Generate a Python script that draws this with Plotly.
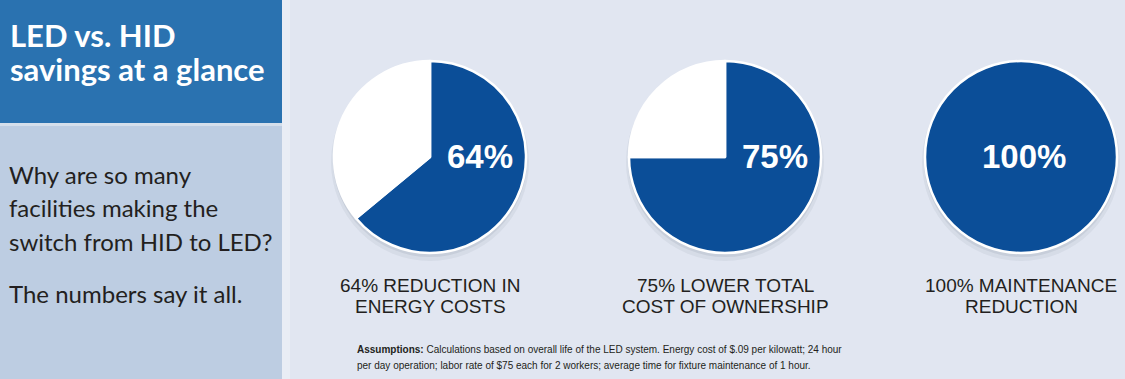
import plotly.graph_objects as go

# ---- data ----
categories = ["Energy costs", "Total cost of ownership", "Maintenance"]
savings_pct = [64, 75, 100]
pie_text = ["64%", "75%", "100%"]
label_line1 = ["64% REDUCTION IN", "75% LOWER TOTAL", "100% MAINTENANCE"]
label_line2 = ["ENERGY COSTS", "COST OF OWNERSHIP", "REDUCTION"]
title_lines = ["LED vs. HID", "savings at a glance"]
body_lines = ["Why are so many", "facilities making the", "switch from HID to LED?", "The numbers say it all."]
assumption_lines = [
    "<b>Assumptions:</b> Calculations based on overall life of the LED system. Energy cost of $.09 per kilowatt; 24 hour",
    "per day operation; labor rate of $75 each for 2 workers; average time for fixture maintenance of 1 hour.",
]

# ---- layout constants (pixels) ----
W, H = 1125, 379
centers_x = [430, 725, 1021]
center_y = 157
R = 96
BLUE = "#0b4e98"
TEXT = "#231f20"

def px(x):
    return x / W

def py(y):
    return 1 - y / H

fig = go.Figure()
shapes = []
annotations = []

# background panels
shapes += [
    dict(type="rect", xref="paper", yref="paper", x0=0, x1=1, y0=0, y1=1,
         fillcolor="#e1e6f1", line_width=0, layer="below"),
    dict(type="rect", xref="paper", yref="paper", x0=px(282), x1=px(290), y0=0, y1=1,
         fillcolor="#e9edf5", line_width=0, layer="below"),
    dict(type="rect", xref="paper", yref="paper", x0=0, x1=px(282), y0=py(123), y1=1,
         fillcolor="#2a72b0", line_width=0, layer="below"),
    dict(type="rect", xref="paper", yref="paper", x0=0, x1=px(282), y0=py(126), y1=py(123),
         fillcolor="#d5dfeb", line_width=0, layer="below"),
    dict(type="rect", xref="paper", yref="paper", x0=0, x1=px(282), y0=0, y1=py(126),
         fillcolor="#bdcde2", line_width=0, layer="below"),
]

for i, (cat, pct) in enumerate(zip(categories, savings_pct)):
    cx = centers_x[i]
    # soft shadow
    for off, grow, op in [(5, 3, 0.05), (3, 1, 0.07)]:
        shapes.append(dict(type="circle", xref="paper", yref="paper",
                           x0=px(cx - R - grow), x1=px(cx + R + grow),
                           y0=py(center_y + off + R + grow), y1=py(center_y + off - R - grow),
                           fillcolor=f"rgba(20,30,60,{op})", line_width=0, layer="below"))
    vals = [pct, 100 - pct]
    labs = [cat, "Remaining"]
    cols = [BLUE, "#ffffff"]
    keep = [k for k, v in enumerate(vals) if v > 0]
    fig.add_trace(go.Pie(
        values=[vals[k] for k in keep],
        labels=[labs[k] for k in keep],
        sort=False,
        direction="clockwise",
        rotation=0,
        marker=dict(colors=[cols[k] for k in keep], line=dict(color="#ffffff", width=2.5)),
        textinfo="none",
        hoverinfo="skip",
        showlegend=False,
        domain=dict(x=[px(cx - R), px(cx + R)], y=[py(center_y + R), py(center_y - R)]),
    ))
    tx = cx + (50 if pct < 100 else 3)
    annotations.append(dict(x=px(tx), y=py(center_y), xref="paper", yref="paper",
                            text=f"<b>{pie_text[i]}</b>", showarrow=False,
                            xanchor="center", yanchor="middle",
                            font=dict(family="Liberation Sans, Arial", size=33, color="white")))
    for ly, txt in [(285, label_line1[i]), (306, label_line2[i])]:
        annotations.append(dict(x=px(cx), y=py(ly), xref="paper", yref="paper",
                                text=txt, showarrow=False, xanchor="center", yanchor="middle",
                                font=dict(family="Liberation Sans, Arial", size=19, color=TEXT)))

# title
for ly, txt in zip([35, 69], title_lines):
    annotations.append(dict(x=px(8), y=py(ly), xref="paper", yref="paper",
                            text=f"<b>{txt}</b>", showarrow=False, xanchor="left", yanchor="middle",
                            font=dict(family="Lato", size=31, color="white")))
# body
for ly, txt in zip([174, 207, 241, 293], body_lines):
    annotations.append(dict(x=px(7), y=py(ly), xref="paper", yref="paper",
                            text=txt, showarrow=False, xanchor="left", yanchor="middle",
                            font=dict(family="Lato", size=24, color=TEXT)))
# assumptions
for ly, txt in zip([349, 365], assumption_lines):
    annotations.append(dict(x=px(355), y=py(ly), xref="paper", yref="paper",
                            text=txt, showarrow=False, xanchor="left", yanchor="middle",
                            font=dict(family="Liberation Sans, Arial", size=10, color=TEXT)))

fig.update_layout(
    width=W, height=H,
    margin=dict(l=0, r=0, t=0, b=0),
    paper_bgcolor="#e1e6f1",
    plot_bgcolor="#e1e6f1",
    shapes=shapes,
    annotations=annotations,
    showlegend=False,
)

fig.write_html("out.html", config={"displayModeBar": False},
               post_script="document.body.style.margin='0';document.body.style.overflow='hidden';")
